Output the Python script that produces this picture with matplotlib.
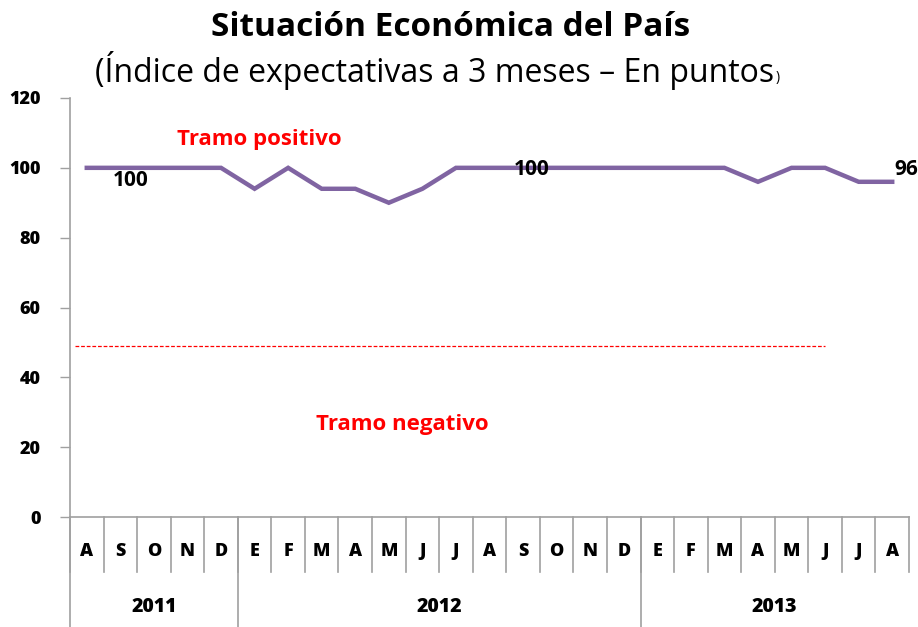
import matplotlib
matplotlib.use("Agg")
import matplotlib.pyplot as plt
import matplotlib.transforms as mtransforms

months = ["A", "S", "O", "N", "D", "E", "F", "M", "A", "M", "J", "J", "A",
          "S", "O", "N", "D", "E", "F", "M", "A", "M", "J", "J", "A"]
values = [100, 100, 100, 100, 100, 94, 100, 94, 94, 90, 94, 100, 100,
          100, 100, 100, 100, 100, 100, 100, 96, 100, 100, 96, 96]
years = ["2011", "2012", "2013"]
year_spans = [(0, 4), (5, 16), (17, 24)]
threshold = 49
yticks = [0, 20, 40, 60, 80, 100, 120]

plt.rcParams['font.family'] = ['Open Sans', 'DejaVu Sans']

fig = plt.figure(figsize=(9.18, 6.27), dpi=100)
ax = fig.add_axes([70/918, 110/627, 839/918, 419/627])

x = list(range(len(values)))
ax.plot(x, values, color="#8064A2", lw=3.2, solid_joinstyle="miter", zorder=3)
ax.plot([-0.35, 22.0], [threshold, threshold], color="#FF0000", lw=0.9,
        ls=(0, (3, 1.5)), zorder=2)

ax.set_xlim(-0.5, len(values) - 0.5)
ax.set_ylim(0, 120)
ax.set_yticks(yticks)
ax.set_yticklabels([str(v) for v in yticks], fontsize=13, fontweight="heavy")
ax.tick_params(axis="y", length=7, width=1, color="#A0A0A0", pad=14)
ax.set_xticks([])
for s in ["top", "right"]:
    ax.spines[s].set_visible(False)
for s in ["left", "bottom"]:
    ax.spines[s].set_color("#A0A0A0")
    ax.spines[s].set_linewidth(1.2)

trans = mtransforms.blended_transform_factory(ax.transData, ax.transAxes)
row1 = -55/419
row2 = -110/419
for i in range(len(values) + 1):
    xb = i - 0.5
    ax.plot([xb, xb], [0, row1], transform=trans, color="#A0A0A0", lw=1.2,
            clip_on=False)
for (a, b) in year_spans[:-1]:
    xb = b + 0.5
    ax.plot([xb, xb], [0, row2], transform=trans, color="#A0A0A0", lw=1.2,
            clip_on=False)
ax.plot([-0.5, -0.5], [0, row2], transform=trans, color="#A0A0A0", lw=1.2,
        clip_on=False)

for i, m in enumerate(months):
    ax.text(i, -34/419, m, transform=trans, ha="center", va="center",
            fontsize=13, fontweight="heavy")
for yr, (a, b) in zip(years, year_spans):
    ax.text((a + b) / 2, -90/419, yr, transform=trans,
            ha="center", va="center", fontsize=14, fontweight="heavy")

ax.text(1.3, 96.3, "100", ha="center", va="center", fontsize=15,
        fontweight="bold")
ax.text(13.27, 99.6, "100", ha="center", va="center", fontsize=15,
        fontweight="bold")
ax.text(24.05, 99.6, "96", ha="left", va="center", fontsize=15,
        fontweight="bold", clip_on=False)

ax.text(5.15, 108, "Tramo positivo", color="#FF0000", ha="center",
        va="center", fontsize=16, fontweight="bold")
ax.text(9.4, 26.6, "Tramo negativo", color="#FF0000", ha="center",
        va="center", fontsize=16, fontweight="bold")

fig.text(451/918, 1 - 27/627, "Situación Económica del País", ha="center",
         va="center", fontsize=24, fontweight="bold")
sub = fig.text(95/918, 1 - 70/627, "(Índice de expectativas a 3 meses – En puntos",
               ha="left", va="center", fontsize=23)
fig.canvas.draw()
bb = sub.get_window_extent()
fig.text((bb.x1 + 1) / 918, 1 - 77/627, ")", ha="left", va="center", fontsize=10)

fig.savefig("out.png", dpi=100)
